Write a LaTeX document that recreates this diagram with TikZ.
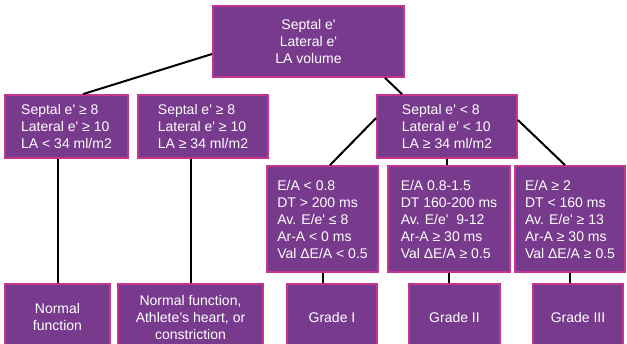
\documentclass[tikz,border=0pt]{standalone}
\usepackage{fontspec}
\setmainfont{Liberation Sans}
\usepackage{tikz}
\usetikzlibrary{positioning}
\definecolor{plum}{HTML}{783A8C}
\definecolor{rim}{HTML}{C4358F}
\newcommand{\ap}{\textquotesingle}

\begin{document}
\begin{tikzpicture}[x=1pt,y=-1pt,
  every node/.style={font=\fontsize{14}{17}\selectfont},
  box/.style={fill=plum,draw=rim,line width=1.8pt,text=white,inner sep=0pt,align=center},
  crit/.style={box,align=left},
  link/.style={line width=2pt,black}]
  \clip (0,0) rectangle (627,343);
  \node[box,minimum width=191pt,minimum height=71pt] (root) at (308.5,41.5) {Septal e\ap\\Lateral e\ap\\LA volume};
  \node[crit,minimum width=123pt,minimum height=63pt] (nrm) at (66.5,126.5) {Septal e\ap{} ≥ 8\\Lateral e\ap{} ≥ 10\\LA < 34 ml/m2};
  \node[crit,minimum width=130pt,minimum height=63pt] (ath) at (203,126.5) {Septal e\ap{} ≥ 8\\Lateral e\ap{} ≥ 10\\LA ≥ 34 ml/m2};
  \node[crit,minimum width=140pt,minimum height=63pt] (dys) at (447,126.5) {Septal e\ap{} < 8\\Lateral e\ap{} < 10\\LA ≥ 34 ml/m2};
  \node[crit,minimum width=111pt,minimum height=106pt] (g1crit) at (322.5,219) {E/A < 0.8\\DT > 200 ms\\Av. E/e\ap{} ≤ 8\\Ar-A < 0 ms\\Val ΔE/A < 0.5};
  \node[crit,minimum width=122pt,minimum height=106pt] (g2crit) at (449,219) {E/A 0.8-1.5\\DT 160-200 ms\\Av. E/e\ap{}\ \ 9-12\\Ar-A ≥ 30 ms\\Val ΔE/A ≥ 0.5};
  \node[crit,minimum width=110pt,minimum height=106pt] (g3crit) at (570,219) {E/A ≥ 2\\DT < 160 ms\\Av. E/e\ap{} ≥ 13\\Ar-A ≥ 30 ms\\Val ΔE/A ≥ 0.5};
  \node[box,minimum width=105pt,minimum height=66pt] (nf) at (57.5,317) {Normal\\function};
  \node[box,minimum width=145pt,minimum height=66pt] (ah) at (190.5,317) {Normal function,\\Athlete’s heart, or\\constriction};
  \node[box,minimum width=90pt,minimum height=66pt] (g1) at (332,317) {Grade I};
  \node[box,minimum width=91pt,minimum height=66pt] (g2) at (454.5,317) {Grade II};
  \node[box,minimum width=90pt,minimum height=66pt] (g3) at (578,317) {Grade III};
  \draw[link] ([xshift=16.5pt]nrm.north) -- ([yshift=-12.5pt]root.west);
  \draw[link] ([xshift=76.5pt]root.south) -- ([xshift=-45pt]dys.north);
  \draw[link] ([yshift=8.5pt]dys.west) -- ([xshift=7.5pt]g1crit.north);
  \draw[link] (dys.south) -- (dys.south |- g2crit.north);
  \draw[link] ([yshift=6.5pt]dys.east) -- ([xshift=-5pt]g3crit.north);
  \draw[link] (nf.north |- nrm.south) -- (nf.north);
  \draw[link] (ah.north |- ath.south) -- (ah.north);
  \draw[link] (g1crit.south) -- (g1crit.south |- g1.north);
  \draw[link] (g2crit.south) -- (g2crit.south |- g2.north);
  \draw[link] (g3crit.south) -- (g3crit.south |- g3.north);
\end{tikzpicture}
\end{document}
